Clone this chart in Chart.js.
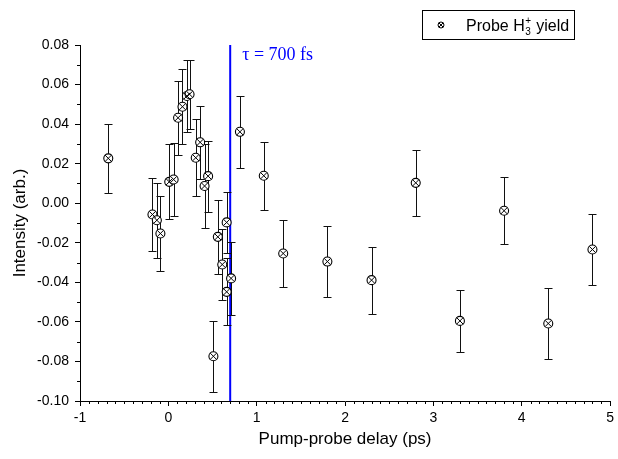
<!DOCTYPE html>
<html>
<head>
<meta charset="utf-8">
<script src="https://cdn.jsdelivr.net/npm/chart.js@4.4.1/dist/chart.umd.min.js"></script>
<style>html,body{margin:0;padding:0;background:#fff;}</style>
</head>
<body>
<canvas id="chart" width="618" height="459"></canvas>
<script>
// pump-probe delay (ps)
const delay = [-0.68,-0.18,-0.13,-0.09,0.01,0.06,0.11,0.16,0.21,0.24,0.31,0.36,0.41,0.45,0.51,0.56,0.61,0.66,0.66,0.71,0.81,1.08,1.3,1.8,2.3,2.8,3.3,3.8,4.3,4.8];
// H3+ yield and its error
const yieldH3 = [0.0227,-0.0057,-0.0086,-0.0153,0.0108,0.012,0.0432,0.0488,0.0542,0.0551,0.023,0.0308,0.0087,0.0137,-0.0774,-0.017,-0.031,-0.0448,-0.0097,-0.038,0.0361,0.0139,-0.0254,-0.0295,-0.0389,0.0103,-0.0595,-0.0038,-0.0608,-0.0234];
const yieldErr = [0.0176,0.0183,0.019,0.0188,0.019,0.0183,0.0186,0.019,0.0182,0.0175,0.0194,0.0185,0.021,0.018,0.018,0.0186,0.018,0.017,0.0155,0.0186,0.0182,0.0173,0.0169,0.018,0.017,0.0168,0.0155,0.017,0.018,0.0178];
const xRange = [-1, 5];
const yRange = [-0.10, 0.08];
const tau = 0.7; // ps

const SANS = "'Liberation Sans', Arial, sans-serif";
const points = delay.map((d,i)=>({x:d, y:yieldH3[i]}));

const extras = {
  id: 'extras',
  beforeDatasetsDraw(chart){
    const {ctx, chartArea:a, scales:{x,y}} = chart;
    ctx.save();
    // minor ticks
    ctx.strokeStyle = '#000'; ctx.lineWidth = 1;
    ctx.beginPath();
    for(let i=xRange[0]*10;i<=xRange[1]*10;i++){
      if(i%10===0) continue;
      const px = Math.round(x.getPixelForValue(i/10))+0.5;
      ctx.moveTo(px,a.bottom); ctx.lineTo(px,a.bottom+3);
    }
    for(let i=-9;i<=7;i+=2){
      const py = Math.round(y.getPixelForValue(i/100))+0.5;
      ctx.moveTo(a.left,py); ctx.lineTo(a.left-3,py);
    }
    ctx.stroke();
    // tau line
    const tx = x.getPixelForValue(tau);
    ctx.strokeStyle = '#0000ff'; ctx.lineWidth = 2;
    ctx.beginPath(); ctx.moveTo(tx,a.top); ctx.lineTo(tx,a.bottom); ctx.stroke();
    // error bars
    ctx.strokeStyle = '#111'; ctx.lineWidth = 1;
    ctx.beginPath();
    delay.forEach((d,i)=>{
      const px = Math.round(x.getPixelForValue(d))+0.5;
      const top = Math.round(y.getPixelForValue(yieldH3[i]+yieldErr[i]))+0.5;
      const bot = Math.round(y.getPixelForValue(yieldH3[i]-yieldErr[i]))+0.5;
      ctx.moveTo(px,top); ctx.lineTo(px,bot);
      ctx.moveTo(px-4,top); ctx.lineTo(px+4,top);
      ctx.moveTo(px-4,bot); ctx.lineTo(px+4,bot);
    });
    ctx.stroke();
    ctx.restore();
  },
  afterDatasetsDraw(chart){
    const {ctx, scales:{x}} = chart;
    ctx.save();
    // tau label
    ctx.fillStyle = '#0000ff';
    ctx.font = "18px 'Liberation Serif', 'Times New Roman', serif";
    ctx.textBaseline = 'alphabetic'; ctx.textAlign = 'left';
    ctx.fillText('τ = 700 fs', x.getPixelForValue(tau)+12, 60);
    // legend
    ctx.strokeStyle = '#000'; ctx.lineWidth = 1;
    ctx.strokeRect(422.5,10.5,152,29);
    const mx = 441, my = 25, r = 3;
    ctx.fillStyle = '#fff';
    ctx.beginPath(); ctx.arc(mx,my,r,0,Math.PI*2); ctx.fill(); ctx.stroke();
    const d = r*0.71;
    ctx.beginPath(); ctx.moveTo(mx-d,my-d); ctx.lineTo(mx+d,my+d); ctx.moveTo(mx+d,my-d); ctx.lineTo(mx-d,my+d); ctx.stroke();
    ctx.fillStyle = '#000';
    ctx.font = '16px ' + SANS;
    ctx.fillText('Probe H', 466, 31);
    let px = 466 + ctx.measureText('Probe H').width + 0.5;
    ctx.font = '10px ' + SANS;
    ctx.fillText('+', px, 24);
    ctx.fillText('3', px, 35);
    px += ctx.measureText('3').width + 1;
    ctx.font = '16px ' + SANS;
    ctx.fillText(' yield', px, 31);
    ctx.restore();
  }
};

new Chart(document.getElementById('chart'), {
  type: 'scatter',
  data: {
    datasets: [{
      label: 'Probe H3+ yield',
      data: points,
      order: 2,
      pointStyle: 'circle',
      pointRadius: 4.5,
      backgroundColor: '#fff',
      borderColor: '#000',
      borderWidth: 1.1,
      showLine: false
    }, {
      label: 'cross',
      data: points,
      order: 1,
      pointStyle: 'crossRot',
      pointRadius: 4.5,
      borderColor: '#000',
      borderWidth: 1,
      showLine: false
    }]
  },
  options: {
    responsive: false,
    animation: false,
    events: [],
    layout: {padding: {left:0, right:7, top:45, bottom:0}},
    plugins: {legend: {display:false}, tooltip: {enabled:false}},
    scales: {
      x: {
        type: 'linear', min: xRange[0], max: xRange[1],
        afterFit(s){ s.height = 58; },
        border: {display:true, color:'#000', width:1},
        grid: {drawOnChartArea:false, drawTicks:true, tickLength:5, color:'#000'},
        ticks: {stepSize:1, color:'#000', padding:4, font:{family:SANS, size:14}, maxRotation:0},
        title: {display:true, text:'Pump-probe delay (ps)', color:'#000', font:{family:SANS, size:17}, padding:{top:0, bottom:9}}
      },
      y: {
        type: 'linear', min: yRange[0], max: yRange[1],
        afterFit(s){ s.width = 80; },
        border: {display:true, color:'#000', width:1},
        grid: {drawOnChartArea:false, drawTicks:true, tickLength:5, color:'#000'},
        ticks: {stepSize:0.02, color:'#000', padding:6, font:{family:SANS, size:14}, callback:v=>v.toFixed(2)},
        title: {display:true, text:'Intensity (arb.)', color:'#000', font:{family:SANS, size:17}, padding:{top:10, bottom:0}}
      }
    }
  },
  plugins: [extras]
});
</script>
</body>
</html>
